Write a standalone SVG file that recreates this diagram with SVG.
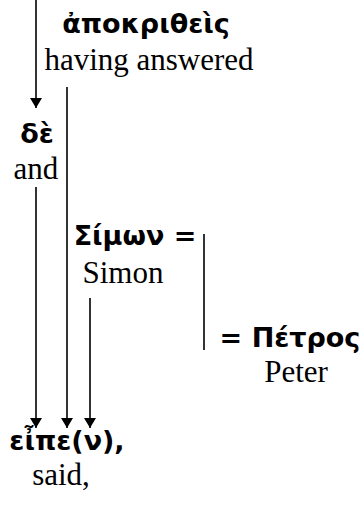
<svg xmlns="http://www.w3.org/2000/svg" width="360" height="508" viewBox="0 0 360 508">
<style>
.gk{font-family:"DejaVu Sans","Noto Sans",sans-serif;font-weight:bold;font-size:27px;fill:#000;text-anchor:middle}
.en{font-family:"Liberation Serif","Times New Roman",serif;font-size:31px;fill:#000;text-anchor:middle}
.ln{stroke:#000;stroke-width:1.6;fill:none}
</style>
<defs>
<marker id="ah" viewBox="0 0 10 12" refX="10" refY="6" markerWidth="10" markerHeight="12" markerUnits="userSpaceOnUse" orient="auto">
<path d="M0,0 L10,6 L0,12 Z" fill="#000"/>
</marker>
</defs>
<rect width="360" height="508" fill="#fff"/>
<g id="connectors">
<line class="ln" x1="36" y1="0" x2="36" y2="108" marker-end="url(#ah)"/>
<line class="ln" x1="67" y1="87" x2="67" y2="428" marker-end="url(#ah)"/>
<line class="ln" x1="36" y1="187" x2="36" y2="428" marker-end="url(#ah)"/>
<line class="ln" x1="90" y1="298" x2="90" y2="428" marker-end="url(#ah)"/>
<line class="ln" x1="204" y1="234" x2="204" y2="350"/>
</g>
<g id="apokritheis">
<text class="gk" x="146" y="33">ἀποκριθεὶς</text>
<text class="en" x="149" y="70">having answered</text>
</g>
<g id="de">
<text class="gk" x="37" y="143">δὲ</text>
<text class="en" x="36" y="179">and</text>
</g>
<g id="simon">
<text class="gk" x="135" y="245">Σίμων =</text>
<text class="en" x="123" y="283">Simon</text>
</g>
<g id="petros">
<text class="gk" x="290" y="347">= Πέτρος</text>
<text class="en" x="296" y="382">Peter</text>
</g>
<g id="eipen">
<text class="gk" x="67" y="450">εἶπε(ν),</text>
<text class="en" x="61" y="485">said,</text>
</g>
</svg>
